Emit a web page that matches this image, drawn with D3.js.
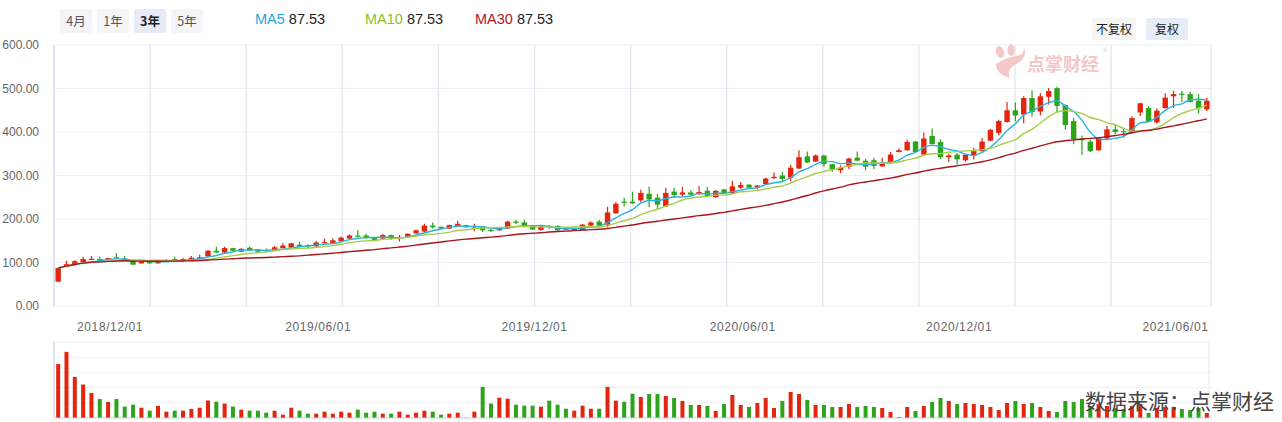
<!DOCTYPE html>
<html><head><meta charset="utf-8">
<script src="https://cdn.jsdelivr.net/npm/d3@7"></script>
<style>
body{margin:0;background:#fff;}
svg{display:block;font-family:"Liberation Sans",Arial,sans-serif;}
</style></head><body>
<svg id="c" width="1282" height="422"></svg>
<script>
const opens  = [56,91,95,101,107,108,106,112,109,105,98,105,98,104,108,105,107,109,114,127,123,133,125,134,130,129,127,133,135,141,139,137,145,145,149,155,162,162,158,155,163,156,159,167,171,185,182,178,183,186,179,183,175,174,178,194,192,184,175,184,184,178,175,175,185,194,187,213,240,240,243,258,249,229,263,256,261,257,265,250,268,259,272,279,272,280,294,300,295,316,344,332,346,326,312,320,341,334,335,321,328,354,358,378,348,391,377,342,348,335,347,356,380,398,423,450,440,478,447,481,501,462,425,385,378,358,385,406,402,398,445,455,422,455,482,488,487,472,452];
const closes = [87.53,96,103,108,108.5,105,110,110,107,95,105,98,105,106,105,108,111,112,127,123,133,127,131.5,128,125,127,135,139,144,136,137,146,147,151,157,162,160,156,152,163,155,159,166,174,185,181,178,186,189,181,180,174,174,179,194,191,182,176,183,181.5,174,175,179,187,192,185,215,235,237,236,260,245,233,260,255,261,256,262,253,265,259,275,278,272,277,293,297,292,318,342,330,346,326,315,318,339,334,320,322,329,348,358,377,354,385,372,342,346,337,348,356,378,405,425,450,438,478,446,482,494,460,416,383,381,356,387,406,400,400,432,466,423,449,479,487,486,469,455,472];
const lows   = [56,90,94,100,106,104,105,109,106,94,97,97,97,103,104,102,106,108,113,122,122,126,124,127,124,123,126,132,134,135,133,136,144,144,148,154,158,155,151,154,152,148,158,166,170,178,177,177,182,180,172,170,170,173,177,188,181,175,173,177,173,174,174,174,184,184,181,212,229,235,238,227,222,228,248,252,255,256,252,249,258,258,269,271,268,279,292,286,286,315,329,331,320,308,305,315,333,312,315,320,327,353,357,353,347,371,338,331,325,332,337,355,379,392,422,425,420,435,438,463,446,405,372,347,354,357,384,395,387,397,437,422,419,454,455,469,468,442,448];
const highs  = [88,104,105,113,115,113,111,122,115,106,106,106,106,107,113,111,115,118,129,136,136,134,133,136,131,132,138,144,145,148,142,150,155,156,160,165,175,166,159,166,164,163,167,176,189,192,183,187,196,187,189,184,179,180,196,198,198,185,184,186,185,179,180,189,194,198,228,239,249,263,268,275,258,272,272,274,266,276,274,266,269,288,285,280,278,295,307,308,325,358,355,348,347,327,323,341,355,338,341,341,354,362,383,379,399,408,383,350,352,349,364,386,407,428,469,468,482,496,489,501,504,463,432,392,383,388,414,417,410,436,467,460,454,489,495,495,493,487,479];
const volumes= [71,87,54,44,33,25,21,25,15,17.5,13.5,9.6,16,8.3,9.6,9.6,12,13.5,23,21.5,19,15,11,9.6,9.6,7,9.6,4.3,13.5,9.6,5.7,5.7,8.3,5.7,8.3,7,11,7,8.3,5.7,5.7,8.3,4.3,7,9.6,8.3,4.3,5.7,7,0.4,8.3,41,19,26.7,25.4,17.5,16.2,16.2,14.9,22.8,17.5,12.2,9.6,16.2,12.2,12.2,41,22.8,21.4,32,27.6,31.6,31.6,29,26.3,22.4,17.1,17.1,15.8,9.2,18.4,30.3,17.1,14.5,19.7,26.3,13.2,22.4,34.2,31.6,23.7,17.1,17.1,14.5,14.5,18.4,14.5,15.8,14.5,13.2,7.9,1.3,14.5,9.2,15.8,21,26.3,22.4,18.4,19.7,18.4,17.1,14.5,10.5,19.7,22.4,18.4,19.7,14.5,9.2,7.9,22.4,21,25,15.8,18.4,15.8,13.2,11.8,15.8,18.4,6.6,13.2,14.5,14.5,11.8,10.5,13.2,6.6];
const tickIndex  = [6,31,57,82,108,134];
const tickLabels = ["2018/12/01","2019/06/01","2019/12/01","2020/06/01","2020/12/01","2021/06/01"];
const priceTicks = [0,100,200,300,400,500,600];
const volTicks   = [0,20,40,60,80,100];
const periodButtons = ["4月","1年","3年","5年"];
const maPeriods = [5,10,30];
const maNames   = ["MA5","MA10","MA30"];
const maColors  = ["#2cb2de","#a6cc4c","#a8161d"];
const maLegendColors = ["#1ea7d9","#8cc21e","#b3151b"];

const svg = d3.select("#c");
const N = closes.length;
const L = 54, R = 1211, T = 45, B = 306, VT = 342, VB = 418;
const UP = "#e2250c", DOWN = "#2ea41b";

const x = d3.scaleBand().domain(d3.range(N)).range([L, R]).paddingInner(0).paddingOuter(0);
const cx = i => x(i) + x.bandwidth()/2;
const y = d3.scaleLinear().domain([0,600]).range([B, T]);
const yv = d3.scaleLinear().domain([0,100]).range([VB, VT]);

// ---- grid (price)
svg.append("g").selectAll("line").data(priceTicks).join("line")
  .attr("x1", L).attr("x2", R).attr("y1", d=>y(d)).attr("y2", d=>y(d))
  .attr("stroke", "#eef0f4").attr("stroke-width", 1);
svg.append("g").selectAll("line").data(d3.range(1,12)).join("line")
  .attr("x1", k=>L+k*96.1).attr("x2", k=>L+k*96.1).attr("y1", T).attr("y2", B)
  .attr("stroke", "#e4e9f1").attr("stroke-width", 1.5);
svg.append("line").attr("x1",R).attr("x2",R).attr("y1",T).attr("y2",B).attr("stroke","#e4e9f1").attr("stroke-width",1.5);
svg.append("line").attr("x1",L).attr("x2",L).attr("y1",T).attr("y2",B).attr("stroke","#c8d4e8").attr("stroke-width",1.2);

// y labels
svg.append("g").selectAll("text").data(priceTicks).join("text")
  .attr("x", 39).attr("y", d=>y(d)).attr("dy","0.35em").attr("text-anchor","end")
  .attr("font-size", 12).attr("fill", "#666").text(d=>d.toFixed(2));

// x labels
svg.append("g").selectAll("text").data(tickIndex).join("text")
  .attr("x", (d)=>cx(d)+2).attr("y", 331).attr("text-anchor","middle")
  .attr("font-size", 12).attr("letter-spacing", 0.6).attr("fill", "#666")
  .text((d,i)=>tickLabels[i]);

// ---- watermark
const wm = svg.append("g").attr("fill", "#f4c8c8");
wm.append("ellipse").attr("cx",1000).attr("cy",52).attr("rx",4).attr("ry",6).attr("transform","rotate(-20 1000 52)");
wm.append("ellipse").attr("cx",1011).attr("cy",50).attr("rx",3.5).attr("ry",6);
wm.append("path").attr("d","M996 64 Q1004 58 1016 56 Q1024 55 1024 48 Q1028 58 1016 64 Q1006 70 1010 78 Q996 74 996 64 Z");
wm.append("text").attr("x",1027).attr("y",71).attr("font-size",18).attr("font-weight","bold")
  .attr("font-family","'Noto Sans CJK SC',sans-serif").attr("textLength",72).text("点掌财经");
wm.append("text").attr("x",1103).attr("y",52).attr("font-size",6).text("®");

// ---- MA lines
const maSeries = maPeriods.map(n => closes.map((c,i)=>d3.mean(closes.slice(Math.max(0,i-n+1), i+1))));
const line = d3.line().x((d,i)=>cx(i)).y(d=>y(d)).curve(d3.curveMonotoneX);

// ---- candles
const cg = svg.append("g");
const idx = d3.range(N);
cg.selectAll("line").data(idx).join("line")
  .attr("x1", i=>cx(i)).attr("x2", i=>cx(i))
  .attr("y1", i=>y(highs[i])).attr("y2", i=>y(lows[i]))
  .attr("stroke", i=>closes[i]>=opens[i]?UP:DOWN).attr("stroke-width",1.2);
const bw = 5.4;
cg.selectAll("rect").data(idx).join("rect")
  .attr("x", i=>cx(i)-bw/2).attr("width", bw)
  .attr("y", i=>y(Math.max(opens[i],closes[i])))
  .attr("height", i=>Math.max(1.2, Math.abs(y(opens[i])-y(closes[i]))))
  .attr("fill", i=>closes[i]>=opens[i]?UP:DOWN);

svg.append("g").selectAll("path").data(maSeries).join("path")
  .attr("d", d=>line(d)).attr("fill","none")
  .attr("stroke", (d,i)=>maColors[i]).attr("stroke-width", 1.4);

// ---- volume panel
svg.append("g").selectAll("line").data(volTicks.slice(1)).join("line")
  .attr("x1", L).attr("x2", R).attr("y1", d=>yv(d)).attr("y2", d=>yv(d))
  .attr("stroke", "#eef0f4").attr("stroke-width", 1);
svg.append("line").attr("x1",L).attr("x2",L).attr("y1",VT).attr("y2",VB).attr("stroke","#c8d4e8").attr("stroke-width",1.2);
svg.append("line").attr("x1",R-2).attr("x2",R-2).attr("y1",VT).attr("y2",VB).attr("stroke","#e4e9f1").attr("stroke-width",1);
svg.append("g").selectAll("rect").data(idx).join("rect")
  .attr("x", i=>cx(i)-2).attr("width", 4)
  .attr("y", i=>yv(volumes[i])).attr("height", i=>VB-yv(volumes[i]))
  .attr("fill", i=>closes[i]>=opens[i]?UP:DOWN);
svg.append("line").attr("x1",L).attr("x2",R).attr("y1",VB).attr("y2",VB).attr("stroke","#c8d4e8").attr("stroke-width",1.2);

// ---- top buttons
const bx = [60,97,134,171];
const bg = svg.append("g").selectAll("g").data(periodButtons).join("g");
bg.append("rect").attr("x",(d,i)=>bx[i]).attr("y",9).attr("width",32).attr("height",24).attr("rx",2)
  .attr("fill",(d,i)=>i===2?"#e6ebf6":"#f5f5f7");
bg.append("text").attr("x",(d,i)=>bx[i]+16).attr("y",25.5).attr("text-anchor","middle")
  .attr("font-size",12.5).attr("font-family","'Noto Sans CJK SC',sans-serif")
  .attr("font-weight",(d,i)=>i===2?"bold":"normal")
  .attr("fill",(d,i)=>i===2?"#222":"#555").text(d=>d);

// legend
const lx = [255,365,475];
const lg = svg.append("g").selectAll("text").data(maNames).join("text")
  .attr("x",(d,i)=>lx[i]).attr("y",24).attr("font-size",14.5);
lg.append("tspan").attr("fill",(d,i)=>maLegendColors[i]).text(d=>d);
lg.append("tspan").attr("fill","#222").attr("dx",4).text((d,i)=>maSeries[i][0].toFixed(2));

// right buttons
svg.append("rect").attr("x",1092).attr("y",18).attr("width",44).attr("height",22).attr("fill","#f5f5f5");
svg.append("rect").attr("x",1146).attr("y",18).attr("width",42).attr("height",22).attr("fill","#e6edf7");
svg.append("text").attr("x",1114).attr("y",33.5).attr("text-anchor","middle").attr("font-size",12)
  .attr("font-family","'Noto Sans CJK SC',sans-serif").attr("fill","#222").text("不复权");
svg.append("text").attr("x",1167).attr("y",33.5).attr("text-anchor","middle").attr("font-size",12)
  .attr("font-family","'Noto Sans CJK SC',sans-serif").attr("fill","#222").text("复权");

// source
svg.append("text").attr("x",1085).attr("y",409).attr("font-size",21)
  .attr("font-family","'Noto Sans CJK SC',sans-serif").attr("fill","#444").text("数据来源：点掌财经");
</script></body></html>
